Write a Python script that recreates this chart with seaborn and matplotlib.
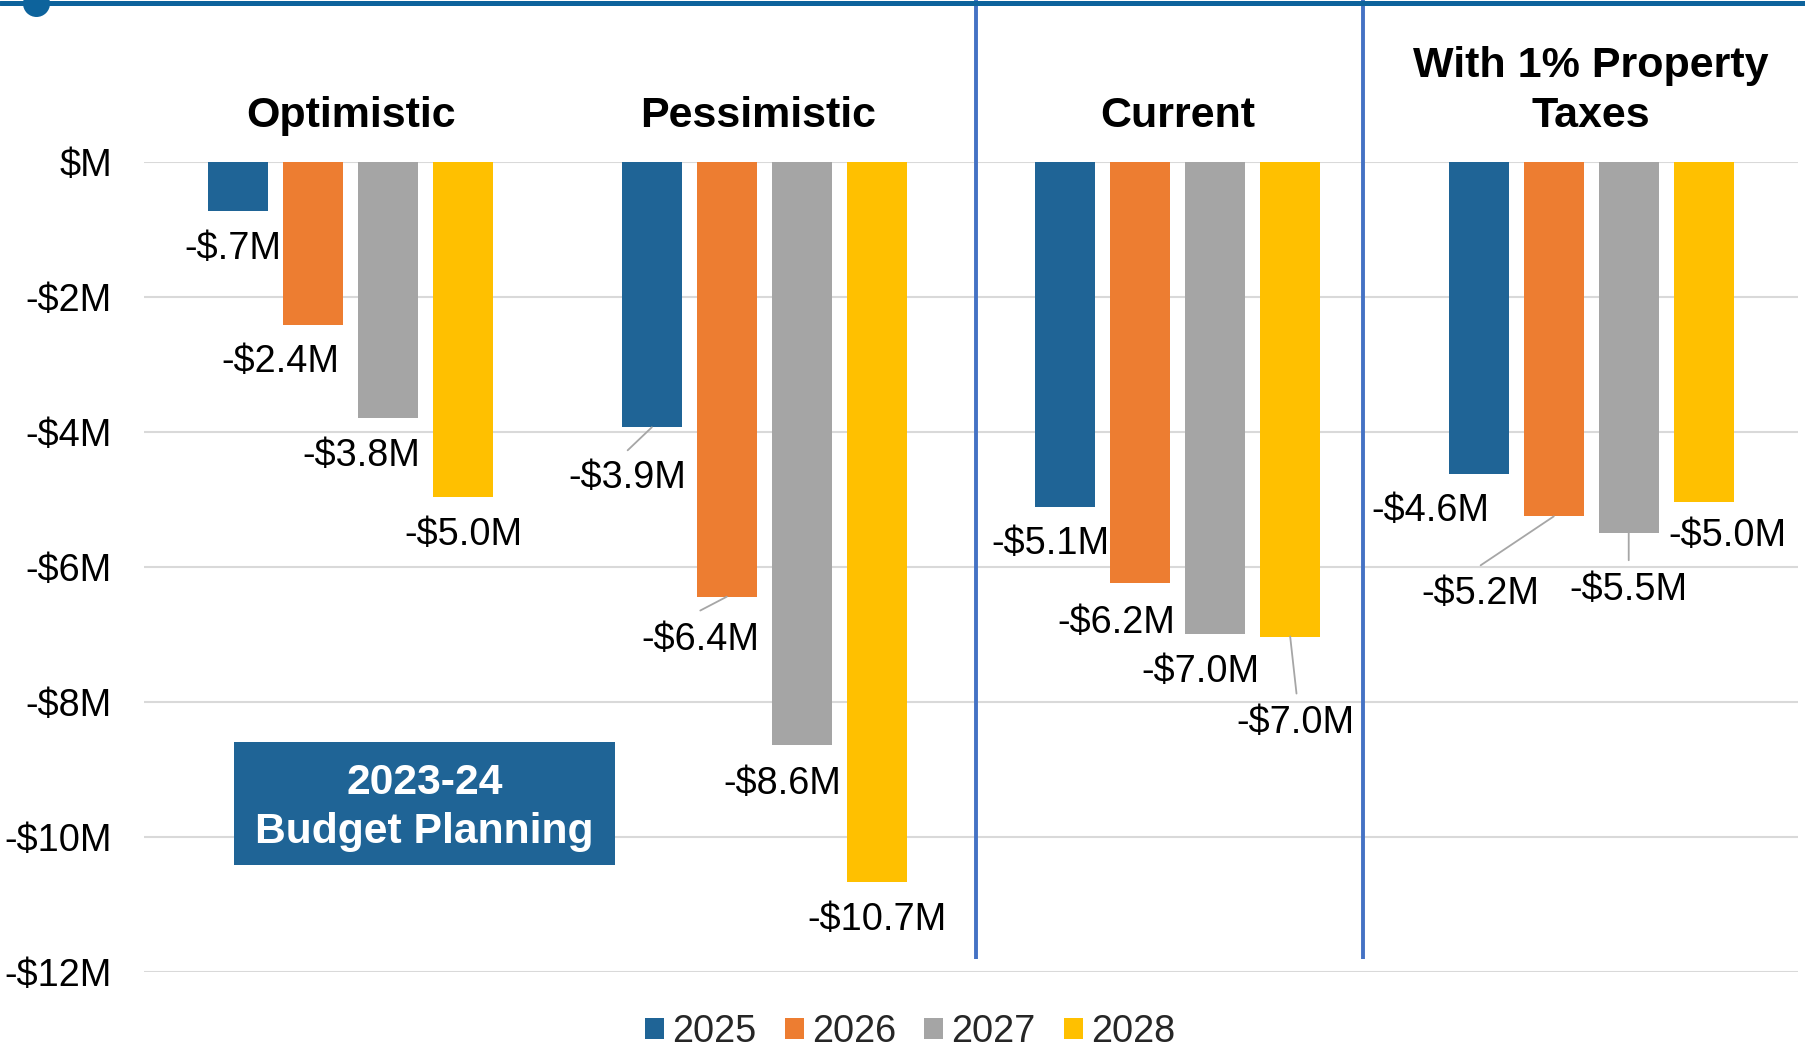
import matplotlib
matplotlib.use("Agg")
import matplotlib.pyplot as plt
import matplotlib.patches as mpatches
from matplotlib.lines import Line2D
import seaborn as sns
import pandas as pd

# ---------------- data ----------------
scenarios = ["Optimistic", "Pessimistic", "Current", "With 1% Property\nTaxes"]
years = ["2025", "2026", "2027", "2028"]
v2025 = [-0.73, -3.93, -5.11, -4.62]
v2026 = [-2.41, -6.44, -6.23, -5.25]
v2027 = [-3.79, -8.64, -6.99, -5.49]
v2028 = [-4.97, -10.67, -7.03, -5.03]
ytick_vals = [0, -2, -4, -6, -8, -10, -12]
ytick_labels = ["$M", "-$2M", "-$4M", "-$6M", "-$8M", "-$10M", "-$12M"]
box_text = "2023-24\nBudget Planning"

colors = ["#1F6496", "#ED7D31", "#A5A5A5", "#FFC000"]

rows = []
for yr, vals in zip(years, [v2025, v2026, v2027, v2028]):
    for sc, v in zip(scenarios, vals):
        rows.append({"scenario": sc, "year": yr, "value": v})
df = pd.DataFrame(rows)

# label offsets (reference px, relative to bar end) per year per scenario
lab_off = {
    ("2025", 0): (-5, 30), ("2026", 0): (-28.5, 29), ("2027", 0): (-23.5, 30), ("2028", 0): (0, 30),
    ("2025", 1): (-21, 41), ("2026", 1): (-23, 35), ("2027", 1): (-17, 31), ("2028", 1): (0, 30),
    ("2025", 2): (-13, 29), ("2026", 2): (-21, 32), ("2027", 2): (-13, 30), ("2028", 2): (5, 72),
    ("2025", 3): (-42, 29), ("2026", 3): (-64, 64), ("2027", 3): (0, 47), ("2028", 3): (21, 27),
}
leaders = {
    ("2025", 1): ((-1, 2), (-21, 20)),
    ("2026", 1): ((0, 0), (-23, 12)),
    ("2028", 2): ((0, 1), (5.5, 49.5)),
    ("2026", 3): ((0, 0), (-63.5, 42.5)),
    ("2027", 3): ((0, 0), (0, 24)),
}
title_dx = [0.0, -0.014, 0.0, 0.0]
K = 1.152 * 0.72  # reference px -> points
FS = 27.3


def money(v):
    s = f"{abs(v):.1f}"
    if s.startswith("0"):
        s = s[1:]
    return f"-${s}M"


# ---------------- figure ----------------
sns.set_theme(style="white")
plt.rcParams["font.family"] = ["Liberation Sans", "DejaVu Sans"]

W, H = 1806, 1052
fig = plt.figure(figsize=(W / 100, H / 100), dpi=100)
ax = fig.add_axes([144 / W, 1 - 972 / H, (1798 - 144) / W, (972 - 162) / H])

sns.barplot(data=df, x="scenario", y="value", hue="year", order=scenarios,
            hue_order=years, palette=colors, width=0.725, gap=0.2,
            errorbar=None, ax=ax, linewidth=0, saturation=1)

ax.set_xlim(-0.5, 3.5)
ax.set_ylim(-12, 0)
ax.set_yticks(ytick_vals)
ax.set_yticklabels(ytick_labels, fontsize=FS, color="black")
ax.tick_params(axis="y", length=0, pad=23)
ax.set_xticks([])
ax.set_xlabel("")
ax.set_ylabel("")
for s in ax.spines.values():
    s.set_visible(False)
ax.grid(axis="y", color="#D9D9D9", linewidth=1.5, zorder=0)
ax.set_axisbelow(True)

# category titles
for i, sc in enumerate(scenarios):
    ax.text(i + title_dx[i], 0.386, sc, ha="center", va="bottom", fontsize=31,
            fontweight="bold", color="black", linespacing=1.32, clip_on=False)

# data labels
for yi, cont in enumerate(ax.containers):
    yr = years[yi]
    for ci, bar in enumerate(cont.patches):
        x = bar.get_x() + bar.get_width() / 2
        y = min(bar.get_y(), bar.get_y() + bar.get_height())
        val = df[(df.year == yr) & (df.scenario == scenarios[ci])].value.iloc[0]
        dx, dy = lab_off[(yr, ci)]
        ax.annotate(money(val), xy=(x, y), xytext=(dx * K, -(dy + 3) * K),
                    textcoords="offset points", ha="center", va="center",
                    fontsize=FS, color="black", annotation_clip=False)
        if (yr, ci) in leaders:
            (sx, sy), (ex, ey) = leaders[(yr, ci)]
            ax.annotate("", xy=(x, y), xytext=(ex * K, -ey * K),
                        textcoords="offset points",
                        arrowprops=dict(arrowstyle="-", color="#A6A6A6", lw=1.3,
                                        shrinkA=0, shrinkB=0),
                        annotation_clip=False)

# separators
for xs in [1.512, 2.448]:
    ax.plot([xs, xs], [-11.81, 2.4], color="#4472C4", lw=2.8, clip_on=False,
            solid_capstyle="butt", zorder=3)

# budget planning box
ax.add_patch(mpatches.Rectangle((-0.282, -10.41), 0.921, 1.81, facecolor="#1F6496",
                                edgecolor="none", zorder=4))
ax.text(0.178, -9.56, box_text, ha="center", va="center", fontsize=30.7,
        fontweight="bold", color="white", linespacing=1.3, zorder=5)

# legend
handles, labels = ax.get_legend_handles_labels()
if ax.get_legend() is not None:
    ax.get_legend().remove()
fig.legend(handles, labels, loc="center", bbox_to_anchor=(910 / W, 1 - 1032 / H),
           ncol=4, frameon=False, fontsize=FS, handlelength=0.5, handleheight=0.5,
           handletextpad=0.22, columnspacing=0.74, borderaxespad=0)

# top rule and dot
fig.add_artist(Line2D([0, 1], [1 - 3 / H, 1 - 3 / H], transform=fig.transFigure,
                      color="#0D639C", lw=3.6))
fig.add_artist(mpatches.Circle((0.365, (H - 3.5) / 100), 0.135, transform=fig.dpi_scale_trans,
                               facecolor="#0D639C", edgecolor="none"))

fig.savefig("out.png", dpi=100)
